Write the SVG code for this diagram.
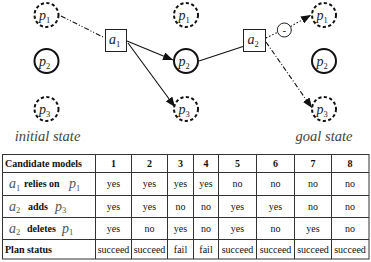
<svg xmlns="http://www.w3.org/2000/svg" width="371" height="262" viewBox="0 0 371 262">
<style>
.sv{font-family:"Liberation Serif",serif;font-style:italic;fill:#222}
.lab{font-size:14px}
.sub{font-size:8.5px;font-style:normal}
.st{font-family:"Liberation Serif",serif;font-style:italic;font-size:14.5px;fill:#444}
.dash{fill:#fff;stroke:#111;stroke-width:2;stroke-dasharray:3.2,2.4}
.sol{fill:#fff;stroke:#111;stroke-width:2}
.box{fill:#fff;stroke:#222;stroke-width:1}
.ln{fill:none;stroke:#111;stroke-width:1.1}
.tb{font-family:"Liberation Serif",serif;font-size:10px;fill:#111}
.hd{font-weight:bold}
.c{text-anchor:middle}
.grid{stroke:#333;stroke-width:1;fill:none}
</style>
<defs>
<marker id="ah" viewBox="0 0 10 8" refX="10" refY="4" markerWidth="10" markerHeight="8" markerUnits="userSpaceOnUse" orient="auto">
<path d="M0,0 L10,4 L0,8 z" fill="#111"/>
</marker>
</defs>
<g id="connectors">
<line class="ln" x1="61" y1="16" x2="105" y2="38" stroke-dasharray="5,2,1,2,1,2"/>
<line class="ln" x1="127" y1="41" x2="173" y2="60" marker-end="url(#ah)"/>
<line class="ln" x1="128" y1="43" x2="175" y2="107" marker-end="url(#ah)"/>
<line class="ln" x1="199" y1="61" x2="243" y2="46.5"/>
<line class="ln" x1="266" y1="38" x2="278" y2="32" stroke-dasharray="1.5,2"/>
<line class="ln" x1="290.5" y1="26.5" x2="311" y2="15" stroke-dasharray="1.5,2" marker-end="url(#ah)"/>
<line class="ln" x1="266" y1="42" x2="312" y2="108" stroke-dasharray="5,2,1,2" marker-end="url(#ah)"/>
<g id="minus">
<circle cx="284.3" cy="30" r="7" fill="#fff" stroke="#222" stroke-width="1"/>
<text x="284.3" y="33.5" class="tb c" style="font-size:11px">-</text>
</g>
</g>
<g id="init-p1"><circle class="dash" cx="46.5" cy="15" r="12"/><text class="sv lab" x="39" y="20">p<tspan class="sub" dy="2.5">1</tspan></text></g>
<g id="init-p2"><circle class="sol" cx="46.5" cy="61" r="12"/><text class="sv lab" x="39" y="66">p<tspan class="sub" dy="2.5">2</tspan></text></g>
<g id="init-p3"><circle class="dash" cx="46.5" cy="109" r="12"/><text class="sv lab" x="39" y="114">p<tspan class="sub" dy="2.5">3</tspan></text></g>
<g id="mid-p1"><circle class="dash" cx="186" cy="15" r="12"/><text class="sv lab" x="178.5" y="20">p<tspan class="sub" dy="2.5">1</tspan></text></g>
<g id="mid-p2"><circle class="sol" cx="186" cy="61" r="12"/><text class="sv lab" x="178.5" y="66">p<tspan class="sub" dy="2.5">2</tspan></text></g>
<g id="mid-p3"><circle class="dash" cx="186" cy="109" r="12"/><text class="sv lab" x="178.5" y="114">p<tspan class="sub" dy="2.5">3</tspan></text></g>
<g id="goal-p1"><circle class="dash" cx="324" cy="15" r="12"/><text class="sv lab" x="316.5" y="20">p<tspan class="sub" dy="2.5">1</tspan></text></g>
<g id="goal-p2"><circle class="sol" cx="324" cy="61" r="12"/><text class="sv lab" x="316.5" y="66">p<tspan class="sub" dy="2.5">2</tspan></text></g>
<g id="goal-p3"><circle class="dash" cx="324" cy="109" r="12"/><text class="sv lab" x="316.5" y="114">p<tspan class="sub" dy="2.5">3</tspan></text></g>
<g id="a1"><rect class="box" x="105.5" y="29.5" width="21" height="22"/><text class="sv lab" x="109" y="44">a<tspan class="sub" dy="2.5">1</tspan></text></g>
<g id="a2"><rect class="box" x="243.5" y="29.5" width="22" height="22"/><text class="sv lab" x="247.5" y="44">a<tspan class="sub" dy="2.5">2</tspan></text></g>
<text class="st c" x="47.5" y="141">initial state</text>
<text class="st c" x="324" y="141">goal state</text>
<g id="table">
<rect class="grid" x="2.5" y="154.5" width="366.5" height="104.5"/>
<path class="grid" d="M2.5,172.5H369M2.5,195.5H369M2.5,217.5H369M2.5,239.5H369M95.5,154.5V259M131.5,154.5V259M167.5,154.5V259M193.5,154.5V259M218.5,154.5V259M256.5,154.5V259M294.5,154.5V259M331.5,154.5V259"/>
<g class="tb hd">
<text x="5" y="166.5">Candidate models</text>
<text class="c" x="113.5" y="166.5">1</text><text class="c" x="149.5" y="166.5">2</text><text class="c" x="180.5" y="166.5">3</text><text class="c" x="206" y="166.5">4</text><text class="c" x="237.5" y="166.5">5</text><text class="c" x="275.5" y="166.5">6</text><text class="c" x="313" y="166.5">7</text><text class="c" x="350" y="166.5">8</text>
<text x="24" y="187">relies on</text>
<text x="28" y="209.5">adds</text>
<text x="27" y="231.5">deletes</text>
<text x="5" y="252.5">Plan status</text>
</g>
<g class="sv" style="fill:#555">
<text class="lab" x="9" y="188">a<tspan class="sub" dy="2.5">1</tspan></text>
<text class="lab" x="69" y="188">p<tspan class="sub" dy="2.5">1</tspan></text>
<text class="lab" x="9" y="210.5">a<tspan class="sub" dy="2.5">2</tspan></text>
<text class="lab" x="55" y="210.5">p<tspan class="sub" dy="2.5">3</tspan></text>
<text class="lab" x="9" y="232.5">a<tspan class="sub" dy="2.5">2</tspan></text>
<text class="lab" x="62" y="232.5">p<tspan class="sub" dy="2.5">1</tspan></text>
</g>
<g class="tb c">
<text x="113.5" y="187">yes</text><text x="149.5" y="187">yes</text><text x="180.5" y="187">yes</text><text x="206" y="187">yes</text><text x="237.5" y="187">no</text><text x="275.5" y="187">no</text><text x="313" y="187">no</text><text x="350" y="187">no</text>
<text x="113.5" y="209.5">yes</text><text x="149.5" y="209.5">yes</text><text x="180.5" y="209.5">no</text><text x="206" y="209.5">no</text><text x="237.5" y="209.5">yes</text><text x="275.5" y="209.5">yes</text><text x="313" y="209.5">no</text><text x="350" y="209.5">no</text>
<text x="113.5" y="231.5">yes</text><text x="149.5" y="231.5">no</text><text x="180.5" y="231.5">yes</text><text x="206" y="231.5">no</text><text x="237.5" y="231.5">yes</text><text x="275.5" y="231.5">no</text><text x="313" y="231.5">yes</text><text x="350" y="231.5">no</text>
<text x="113.5" y="252.5">succeed</text><text x="149.5" y="252.5">succeed</text><text x="180.5" y="252.5">fail</text><text x="206" y="252.5">fail</text><text x="237.5" y="252.5">succeed</text><text x="275.5" y="252.5">succeed</text><text x="313" y="252.5">succeed</text><text x="350" y="252.5">succeed</text>
</g>
</g>
</svg>
